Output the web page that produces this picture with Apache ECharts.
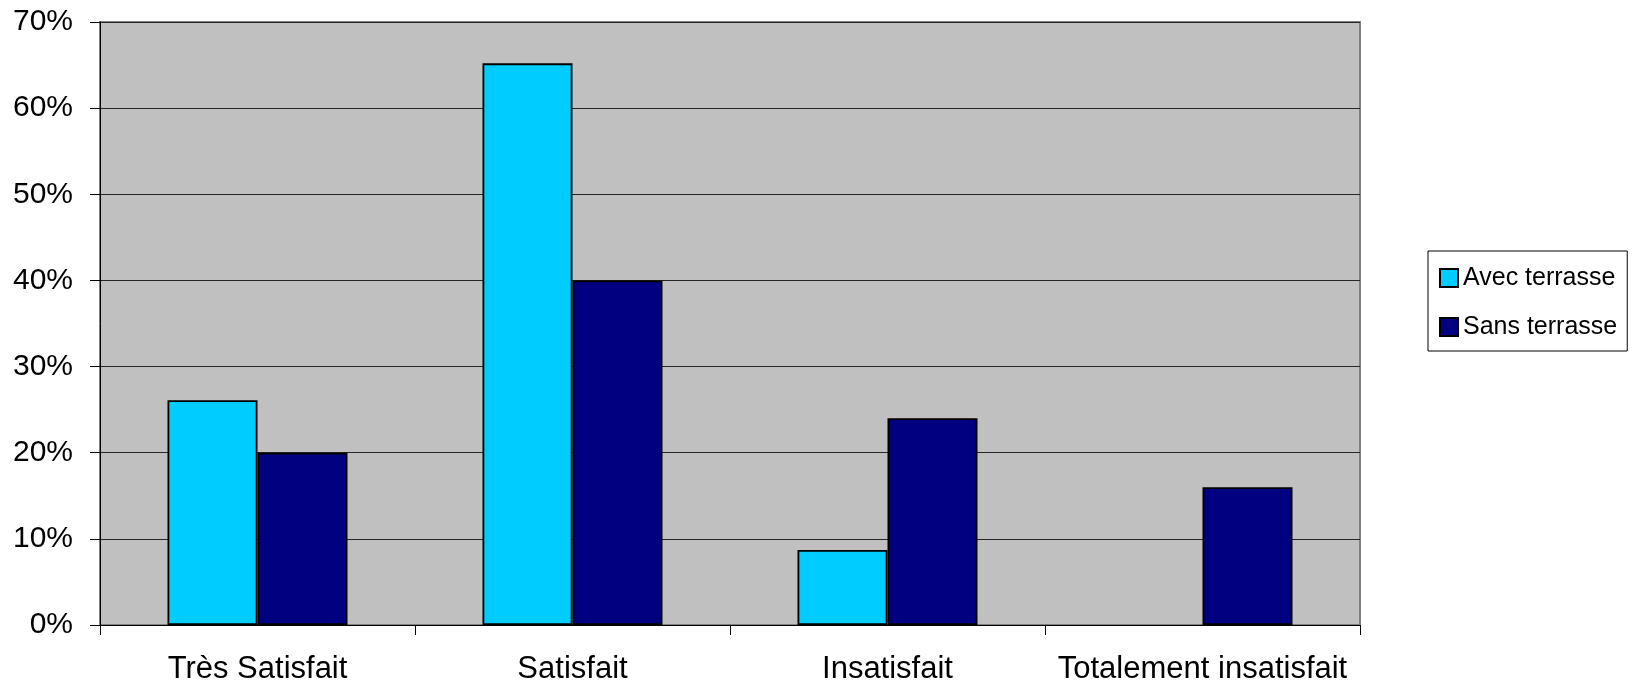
<!DOCTYPE html>
<html>
<head>
<meta charset="utf-8">
<script src="https://cdn.jsdelivr.net/npm/echarts@6/dist/echarts.min.js"></script>
<style>
html,body{margin:0;padding:0;background:#fff;}
#chart{width:1639px;height:685px;}
</style>
</head>
<body>
<div id="chart"></div>
<script>
const categories = ['Très Satisfait', 'Satisfait', 'Insatisfait', 'Totalement insatisfait'];
const avecTerrasse = [26.1, 65.2, 8.7, 0];
const sansTerrasse = [20, 40, 24, 16];
const seriesNames = ['Avec terrasse', 'Sans terrasse'];

// zero-height bars are not drawn in the reference
const toBarData = arr => arr.map(v => (v === 0 ? '-' : v));

const chart = echarts.init(document.getElementById('chart'), null, {renderer: 'canvas'});
chart.setOption({
  animation: false,
  backgroundColor: '#ffffff',
  textStyle: {fontFamily: 'Liberation Sans, Arial, sans-serif', color: '#000'},
  grid: {
    left: 100, right: 279, top: 22, bottom: 59,
    show: true, backgroundColor: '#C0C0C0', borderColor: '#808080', borderWidth: 2
  },
  legend: {
    orient: 'vertical',
    left: 1428, top: 251,
    padding: [12, 10, 9, 11],
    itemGap: 19,
    itemWidth: 18, itemHeight: 18,
    itemTextGap: 10,
    icon: 'rect',
    backgroundColor: '#fff',
    borderColor: '#000', borderWidth: 1,
    textStyle: {fontFamily: 'Liberation Sans, Arial, sans-serif', fontSize: 25, lineHeight: 30, color: '#000'},
    data: seriesNames
  },
  xAxis: {
    type: 'category',
    data: categories,
    boundaryGap: true,
    axisLine: {lineStyle: {color: '#000', width: 1}},
    axisTick: {show: true, length: 10, lineStyle: {color: '#000'}},
    axisLabel: {interval: 0, fontSize: 31, color: '#000', margin: 29, fontFamily: 'Liberation Sans, Arial, sans-serif'},
    splitLine: {show: false}
  },
  yAxis: {
    type: 'value',
    min: 0, max: 70, interval: 10,
    axisLine: {show: true, lineStyle: {color: '#000', width: 1}},
    axisTick: {show: true, length: 10, lineStyle: {color: '#000'}},
    axisLabel: {fontSize: 30, color: '#000', margin: 27, formatter: '{value}%', fontFamily: 'Liberation Sans, Arial, sans-serif'},
    splitLine: {show: true, lineStyle: {color: '#262626', width: 1}}
  },
  series: [
    {
      name: seriesNames[0], type: 'bar', data: toBarData(avecTerrasse),
      barGap: '0%', barCategoryGap: '42.86%',
      itemStyle: {color: '#00CCFF', borderColor: '#000', borderWidth: 1.8}
    },
    {
      name: seriesNames[1], type: 'bar', data: toBarData(sansTerrasse),
      barGap: '0%', barCategoryGap: '42.86%',
      itemStyle: {color: '#000080', borderColor: '#000', borderWidth: 1.8}
    }
  ]
});
</script>
</body>
</html>
